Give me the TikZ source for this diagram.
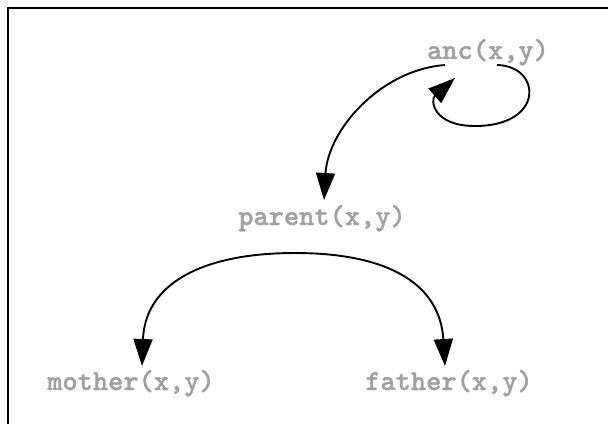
\documentclass[tikz,border=0pt]{standalone}
\usepackage{fontspec}
\newfontfamily\labfont{lmmonolt10-bold.otf}[FakeBold=1.2]
\usetikzlibrary{arrows.meta,calc}
\definecolor{lbl}{HTML}{A0A0A0}
\begin{document}
\begin{tikzpicture}[x=1pt,y=-1pt,
  lab/.style={inner sep=0pt,anchor=base,text=lbl,font=\labfont\fontsize{29}{30}\selectfont},
  conn/.style={line width=1.9pt,-{Triangle[length=27pt,width=19pt]}},
  frame/.style={line width=1.8pt}]
\useasboundingbox (0,0) rectangle (608,424);
\draw[frame] (608,8) -- (8,8) -- (8,424);
\node[lab] (anc) at (488,59) {anc(x,y)};
\node[lab] (parent) at (322,225) {parent(x,y)};
\node[lab] (mother) at (131,390) {mother(x,y)};
\node[lab] (father) at (449,390) {father(x,y)};
\coordinate (ps) at ($(parent.base)+(-27,28)$);
\draw[conn] ($(anc.base)+(-43,6)$) .. controls (380,70) and (328,130) .. ($(parent.base)+(2,-25)$);
\draw[conn] ($(anc.base)+(9,6)$) .. controls (542,66) and (545,126) .. (475,126) .. controls (433,126) and (430,100) .. ($(anc.base)+(-33,19)$);
\draw[conn] (ps) .. controls (200,253) and (145,285) .. ($(mother.base)+(11,-24)$);
\draw[conn] (ps) .. controls (390,253) and (440,285) .. ($(father.base)+(-4,-24)$);
\end{tikzpicture}
\end{document}
